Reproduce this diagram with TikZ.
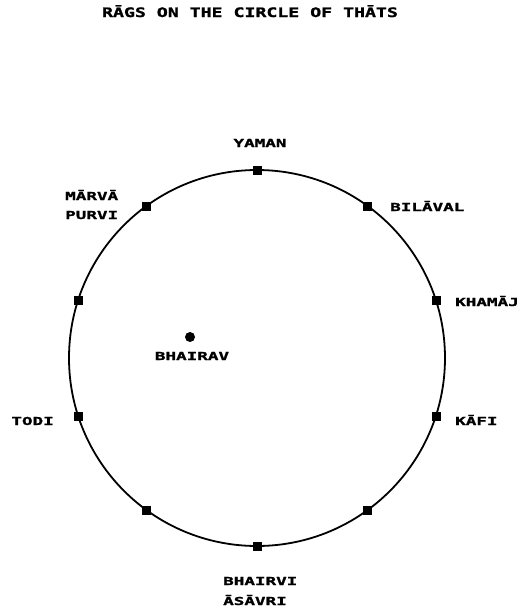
\documentclass[tikz,border=0pt]{standalone}
\usepackage{fontspec}
\newfontfamily\labfont[FakeStretch=1.6,FakeBold=1.5]{DejaVu Sans Mono Bold}
\newfontfamily\titfont[FakeStretch=1.4,FakeBold=1.5]{DejaVu Sans Mono Bold}
\usetikzlibrary{calc}
\tikzset{
  sq/.style={draw=black,fill=black,minimum size=8pt,inner sep=0pt,rectangle},
  lab/.style={font=\labfont\fontsize{11pt}{13pt}\selectfont,inner sep=0pt},
  ring/.style={draw=black,line width=1.8pt},
}
\begin{document}
\begin{tikzpicture}[x=1pt,y=-1pt]
\useasboundingbox (0,0) rectangle (531,613);
\node[font=\titfont\fontsize{13pt}{15pt}\selectfont,inner sep=0pt,anchor=base] (title) at (250,17) {RĀGS ON THE CIRCLE OF THĀTS};
\coordinate (c) at (257,358);
\draw[ring] (c) circle[radius=188pt];
\foreach \a/\n in {90/p1,54/p2,18/p3,-18/p4,-54/p5,-90/p6,-126/p7,-162/p8,162/p9,126/p10}
  \node[sq] (\n) at ($(c)+({188*cos(\a)},{-188*sin(\a)})$) {};
\node[circle,fill=black,minimum size=10pt,inner sep=0pt] (bh) at (190,337) {};
\node[lab,anchor=base] (yaman) at (260,147) {YAMAN};
\node[lab,anchor=base west] (marva) at (65,200) {MĀRVĀ};
\node[lab,anchor=base west] (purvi) at (65,219) {PURVI};
\node[lab,anchor=base west] (bilaval) at (390,211) {BILĀVAL};
\node[lab,anchor=base west] (khamaj) at (455,306) {KHAMĀJ};
\node[lab,anchor=base west] (kafi) at (455,425) {KĀFI};
\node[lab,anchor=base east] (todi) at (54,425) {TODI};
\node[lab,anchor=base] (bhairav) at (192,360) {BHAIRAV};
\node[lab,anchor=base west] (bhairvi) at (223,585) {BHAIRVI};
\node[lab,anchor=base west] (asavri) at (223,605) {ĀSĀVRI};
\end{tikzpicture}
\end{document}
